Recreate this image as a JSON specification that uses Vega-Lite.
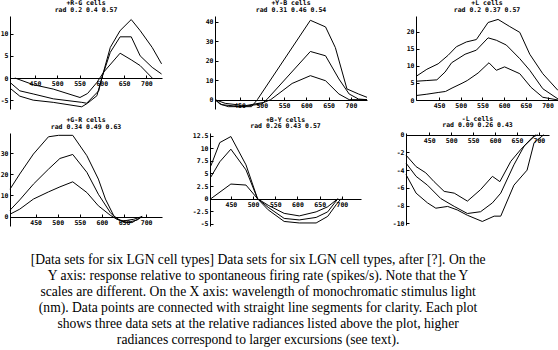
{
  "$schema": "https://vega.github.io/schema/vega-lite/v6.json",
  "background": "white",
  "padding": {"left": 0, "right": 0, "top": 0, "bottom": 0},
  "config": {
    "view": {"stroke": null},
    "axis": {
      "labelFont": "DejaVu Sans Mono", "labelFontSize": 6.5, "labelFontWeight": "bold", "labelColor": "black",
      "domainColor": "black", "domainWidth": 1, "tickColor": "black", "tickWidth": 1, "tickSize": -3,
      "labelPadding": 5, "grid": false, "labelOverlap": false, "labelFlush": false
    },
    "title": {"font": "DejaVu Sans Mono", "fontSize": 6.5, "fontWeight": "bold", "lineHeight": 6.5, "offset": 3, "color": "black", "anchor": "middle"},
    "line": {"color": "black", "strokeWidth": 1, "clip": true}
  },
  "title": {
    "text": [
      "[Data sets for six LGN cell types] Data sets for six LGN cell types, after [?]. On the",
      "Y axis: response relative to spontaneous firing rate (spikes/s). Note that the Y",
      "scales are different. On the X axis: wavelength of monochromatic stimulus light",
      "(nm). Data points are connected with straight line segments for clarity. Each plot",
      "shows three data sets at the relative radiances listed above the plot, higher",
      "radiances correspond to larger excursions (see text)."
    ],
    "orient": "bottom", "anchor": "middle", "font": "Liberation Serif", "fontSize": 13.6, "fontWeight": "normal",
    "lineHeight": 15.9, "offset": 26, "color": "black", "dx": -22
  },
  "datasets": {
    "p1": [
      {"s": "c", "nm": 394, "v": -2.3}, {"s": "c", "nm": 416, "v": -4.1}, {"s": "c", "nm": 446, "v": -5.0}, {"s": "c", "nm": 491, "v": -5.5}, {"s": "c", "nm": 555, "v": -6.5}, {"s": "c", "nm": 568, "v": -5.7}, {"s": "c", "nm": 589, "v": -4.0}, {"s": "c", "nm": 600, "v": 0}, {"s": "c", "nm": 619, "v": 6.9}, {"s": "c", "nm": 641, "v": 10.7}, {"s": "c", "nm": 666, "v": 13.2}, {"s": "c", "nm": 686, "v": 10.7}, {"s": "c", "nm": 713, "v": 6.9}, {"s": "c", "nm": 734, "v": 3.2},
      {"s": "b", "nm": 394, "v": -1.0}, {"s": "b", "nm": 416, "v": -2.9}, {"s": "b", "nm": 446, "v": -3.6}, {"s": "b", "nm": 491, "v": -4.7}, {"s": "b", "nm": 555, "v": -5.5}, {"s": "b", "nm": 566, "v": -5.7}, {"s": "b", "nm": 593, "v": -2.9}, {"s": "b", "nm": 600, "v": 0}, {"s": "b", "nm": 619, "v": 5.8}, {"s": "b", "nm": 641, "v": 9.3}, {"s": "b", "nm": 666, "v": 9.3}, {"s": "b", "nm": 686, "v": 5.0}, {"s": "b", "nm": 713, "v": 2.4}, {"s": "b", "nm": 734, "v": 0.9},
      {"s": "a", "nm": 405, "v": 0}, {"s": "a", "nm": 446, "v": -1.5}, {"s": "a", "nm": 491, "v": -2.5}, {"s": "a", "nm": 551, "v": -4.4}, {"s": "a", "nm": 568, "v": -3.5}, {"s": "a", "nm": 589, "v": -1.0}, {"s": "a", "nm": 604, "v": 1.3}, {"s": "a", "nm": 641, "v": 5.6}, {"s": "a", "nm": 666, "v": 4.1}, {"s": "a", "nm": 686, "v": 2.8}, {"s": "a", "nm": 713, "v": 0}
    ],
    "p2": [
      {"s": "c", "nm": 395, "v": 0}, {"s": "c", "nm": 406, "v": -2.2}, {"s": "c", "nm": 425, "v": -3.6}, {"s": "c", "nm": 477, "v": -3.6}, {"s": "c", "nm": 490, "v": 0}, {"s": "c", "nm": 609, "v": 40.7}, {"s": "c", "nm": 643, "v": 37.3}, {"s": "c", "nm": 665, "v": 26.7}, {"s": "c", "nm": 691, "v": 5.5}, {"s": "c", "nm": 717, "v": 2.9}, {"s": "c", "nm": 736, "v": 1.2},
      {"s": "b", "nm": 395, "v": 0}, {"s": "b", "nm": 410, "v": -2.6}, {"s": "b", "nm": 455, "v": -3.6}, {"s": "b", "nm": 500, "v": -2.2}, {"s": "b", "nm": 511, "v": 0}, {"s": "b", "nm": 609, "v": 24.7}, {"s": "b", "nm": 643, "v": 22.5}, {"s": "b", "nm": 673, "v": 10.6}, {"s": "b", "nm": 696, "v": 2.9}, {"s": "b", "nm": 717, "v": 0.3}, {"s": "b", "nm": 736, "v": 0},
      {"s": "a", "nm": 395, "v": 0}, {"s": "a", "nm": 418, "v": -1.9}, {"s": "a", "nm": 463, "v": -3.1}, {"s": "a", "nm": 505, "v": -1.4}, {"s": "a", "nm": 520, "v": 0}, {"s": "a", "nm": 568, "v": 8.3}, {"s": "a", "nm": 609, "v": 12.3}, {"s": "a", "nm": 643, "v": 9.7}, {"s": "a", "nm": 673, "v": 2.9}, {"s": "a", "nm": 696, "v": 0}, {"s": "a", "nm": 736, "v": 0}
    ],
    "p3": [
      {"s": "c", "nm": 397, "v": 6.9}, {"s": "c", "nm": 422, "v": 9.0}, {"s": "c", "nm": 448, "v": 10.6}, {"s": "c", "nm": 471, "v": 13.1}, {"s": "c", "nm": 490, "v": 15.6}, {"s": "c", "nm": 513, "v": 17.0}, {"s": "c", "nm": 536, "v": 17.7}, {"s": "c", "nm": 563, "v": 22.7}, {"s": "c", "nm": 586, "v": 23.6}, {"s": "c", "nm": 613, "v": 21.5}, {"s": "c", "nm": 636, "v": 19.8}, {"s": "c", "nm": 659, "v": 13.4}, {"s": "c", "nm": 689, "v": 7.7}, {"s": "c", "nm": 724, "v": 2.8},
      {"s": "b", "nm": 397, "v": 5.5}, {"s": "b", "nm": 422, "v": 5.7}, {"s": "b", "nm": 445, "v": 5.9}, {"s": "b", "nm": 464, "v": 8.2}, {"s": "b", "nm": 479, "v": 10.9}, {"s": "b", "nm": 510, "v": 13.4}, {"s": "b", "nm": 536, "v": 14.6}, {"s": "b", "nm": 563, "v": 18.2}, {"s": "b", "nm": 582, "v": 17.5}, {"s": "b", "nm": 605, "v": 16.1}, {"s": "b", "nm": 636, "v": 12.1}, {"s": "b", "nm": 659, "v": 8.7}, {"s": "b", "nm": 689, "v": 3.3}, {"s": "b", "nm": 724, "v": 0.3},
      {"s": "a", "nm": 397, "v": 1.3}, {"s": "a", "nm": 422, "v": 1.7}, {"s": "a", "nm": 448, "v": 2.2}, {"s": "a", "nm": 465, "v": 2.5}, {"s": "a", "nm": 480, "v": 3.5}, {"s": "a", "nm": 503, "v": 4.9}, {"s": "a", "nm": 515, "v": 5.7}, {"s": "a", "nm": 540, "v": 7.9}, {"s": "a", "nm": 565, "v": 10.9}, {"s": "a", "nm": 582, "v": 8.7}, {"s": "a", "nm": 601, "v": 9.7}, {"s": "a", "nm": 636, "v": 7.7}, {"s": "a", "nm": 662, "v": 3.7}, {"s": "a", "nm": 689, "v": 0.8}, {"s": "a", "nm": 724, "v": 0}
    ],
    "p4": [
      {"s": "c", "nm": 392, "v": 13}, {"s": "c", "nm": 414, "v": 20.2}, {"s": "c", "nm": 445, "v": 29.7}, {"s": "c", "nm": 479, "v": 37.9}, {"s": "c", "nm": 502, "v": 38.6}, {"s": "c", "nm": 534, "v": 38.6}, {"s": "c", "nm": 566, "v": 28.9}, {"s": "c", "nm": 592, "v": 17.8}, {"s": "c", "nm": 608, "v": 8.3}, {"s": "c", "nm": 627, "v": 0.3}, {"s": "c", "nm": 645, "v": -2.4}, {"s": "c", "nm": 668, "v": -2.9}, {"s": "c", "nm": 691, "v": 0},
      {"s": "b", "nm": 392, "v": 3}, {"s": "b", "nm": 414, "v": 7.9}, {"s": "b", "nm": 445, "v": 15.4}, {"s": "b", "nm": 479, "v": 22.5}, {"s": "b", "nm": 505, "v": 27.6}, {"s": "b", "nm": 534, "v": 29.5}, {"s": "b", "nm": 566, "v": 21}, {"s": "b", "nm": 592, "v": 10.6}, {"s": "b", "nm": 619, "v": 1.9}, {"s": "b", "nm": 634, "v": -1.3}, {"s": "b", "nm": 657, "v": -2.9}, {"s": "b", "nm": 680, "v": -1.6}, {"s": "b", "nm": 691, "v": 0},
      {"s": "a", "nm": 392, "v": 1.1}, {"s": "a", "nm": 414, "v": 3.5}, {"s": "a", "nm": 445, "v": 8.3}, {"s": "a", "nm": 479, "v": 11.7}, {"s": "a", "nm": 505, "v": 14.1}, {"s": "a", "nm": 534, "v": 16.5}, {"s": "a", "nm": 566, "v": 11.4}, {"s": "a", "nm": 592, "v": 5.1}, {"s": "a", "nm": 619, "v": 0.6}, {"s": "a", "nm": 634, "v": -1.3}, {"s": "a", "nm": 649, "v": -2.1}, {"s": "a", "nm": 672, "v": -1.3}, {"s": "a", "nm": 691, "v": 0}
    ],
    "p5": [
      {"s": "c", "nm": 405, "v": 6.5}, {"s": "c", "nm": 425, "v": 11.1}, {"s": "c", "nm": 450, "v": 12.3}, {"s": "c", "nm": 484, "v": 6.7}, {"s": "c", "nm": 510, "v": 0}, {"s": "c", "nm": 534, "v": -2.2}, {"s": "c", "nm": 570, "v": -4.5}, {"s": "c", "nm": 604, "v": -4.8}, {"s": "c", "nm": 642, "v": -4.8}, {"s": "c", "nm": 668, "v": -3.5}, {"s": "c", "nm": 687, "v": -1.2}, {"s": "c", "nm": 698, "v": 0},
      {"s": "b", "nm": 405, "v": 4.3}, {"s": "b", "nm": 425, "v": 7.3}, {"s": "b", "nm": 450, "v": 9.8}, {"s": "b", "nm": 484, "v": 5.7}, {"s": "b", "nm": 510, "v": 0}, {"s": "b", "nm": 534, "v": -1.7}, {"s": "b", "nm": 570, "v": -3.9}, {"s": "b", "nm": 604, "v": -4.2}, {"s": "b", "nm": 642, "v": -3.7}, {"s": "b", "nm": 668, "v": -2.6}, {"s": "b", "nm": 691, "v": 0},
      {"s": "a", "nm": 405, "v": 0}, {"s": "a", "nm": 450, "v": 2.9}, {"s": "a", "nm": 484, "v": 2.7}, {"s": "a", "nm": 510, "v": 0}, {"s": "a", "nm": 534, "v": -1.3}, {"s": "a", "nm": 570, "v": -2.9}, {"s": "a", "nm": 604, "v": -3.4}, {"s": "a", "nm": 642, "v": -2.6}, {"s": "a", "nm": 668, "v": -1.6}, {"s": "a", "nm": 691, "v": 0}
    ],
    "p6": [
      {"s": "a", "nm": 397, "v": -2.3}, {"s": "a", "nm": 420, "v": -3.6}, {"s": "a", "nm": 442, "v": -4.3}, {"s": "a", "nm": 461, "v": -5.3}, {"s": "a", "nm": 484, "v": -6.4}, {"s": "a", "nm": 507, "v": -6.6}, {"s": "a", "nm": 537, "v": -7.5}, {"s": "a", "nm": 567, "v": -6.2}, {"s": "a", "nm": 594, "v": -4.7}, {"s": "a", "nm": 611, "v": -5.3}, {"s": "a", "nm": 636, "v": -3.0}, {"s": "a", "nm": 658, "v": -1.7}, {"s": "a", "nm": 685, "v": -0.3}, {"s": "a", "nm": 692, "v": 0},
      {"s": "b", "nm": 397, "v": -3.2}, {"s": "b", "nm": 420, "v": -4.7}, {"s": "b", "nm": 446, "v": -5.7}, {"s": "b", "nm": 476, "v": -7.2}, {"s": "b", "nm": 507, "v": -8.1}, {"s": "b", "nm": 537, "v": -8.9}, {"s": "b", "nm": 567, "v": -8.7}, {"s": "b", "nm": 594, "v": -7.7}, {"s": "b", "nm": 613, "v": -6.6}, {"s": "b", "nm": 643, "v": -3.4}, {"s": "b", "nm": 666, "v": -1.3}, {"s": "b", "nm": 689, "v": -0.2}, {"s": "b", "nm": 697, "v": 0},
      {"s": "c", "nm": 397, "v": -4.5}, {"s": "c", "nm": 420, "v": -6.6}, {"s": "c", "nm": 446, "v": -7.7}, {"s": "c", "nm": 465, "v": -8.3}, {"s": "c", "nm": 492, "v": -8.1}, {"s": "c", "nm": 514, "v": -8.5}, {"s": "c", "nm": 537, "v": -9.1}, {"s": "c", "nm": 571, "v": -9.8}, {"s": "c", "nm": 598, "v": -9.2}, {"s": "c", "nm": 613, "v": -9.2}, {"s": "c", "nm": 643, "v": -5.7}, {"s": "c", "nm": 673, "v": -4.0}, {"s": "c", "nm": 689, "v": -0.9}, {"s": "c", "nm": 711, "v": 0}
    ]
  },
  "vconcat": [
    {
      "spacing": 41,
      "hconcat": [
        {
          "title": {"text": ["+R-G cells", "rad 0.2 0.4 0.57"]},
          "width": 152, "height": 93,
          "data": {"name": "p1"},
          "mark": "line",
          "encoding": {
            "x": {"field": "nm", "type": "quantitative", "title": null, "scale": {"domain": [394, 735], "nice": false, "zero": false}, "axis": {"values": [450, 500, 550, 600, 650, 700], "offset": -31}},
            "y": {"field": "v", "type": "quantitative", "title": null, "scale": {"domain": [-7, 14], "nice": false}, "axis": {"values": [-5, 0, 5, 10], "labelExpr": "'' + datum.value"}},
            "detail": {"field": "s"}
          }
        },
        {
          "spacing": 37,
          "hconcat": [
            {
              "title": {"text": ["+Y-B cells", "rad 0.31 0.46 0.54"]},
              "width": 152, "height": 93,
              "data": {"name": "p2"},
              "mark": "line",
              "encoding": {
                "x": {"field": "nm", "type": "quantitative", "title": null, "scale": {"domain": [395, 736], "nice": false, "zero": false}, "axis": {"values": [450, 500, 550, 600, 650, 700], "offset": -9}},
                "y": {"field": "v", "type": "quantitative", "title": null, "scale": {"domain": [-4.8, 42.9], "nice": false}, "axis": {"values": [0, 10, 20, 30, 40], "labelExpr": "'' + datum.value"}},
                "detail": {"field": "s"}
              }
            },
            {
              "title": {"text": ["+L cells", "rad 0.2 0.37 0.57"]},
              "width": 142, "height": 84,
              "data": {"name": "p3"},
              "mark": "line",
              "encoding": {
                "x": {"field": "nm", "type": "quantitative", "title": null, "scale": {"domain": [397, 724], "nice": false, "zero": false}, "axis": {"values": [450, 500, 550, 600, 650, 700]}},
                "y": {"field": "v", "type": "quantitative", "title": null, "scale": {"domain": [0, 24.6], "nice": false}, "axis": {"values": [0, 5, 10, 15, 20], "labelExpr": "'' + datum.value"}},
                "detail": {"field": "s"}
              }
            }
          ]
        }
      ]
    },
    {
      "spacing": 30,
      "hconcat": [
        {
          "title": {"text": ["+G-R cells", "rad 0.34 0.49 0.63"]},
          "width": 152, "height": 93,
          "data": {"name": "p4"},
          "mark": "line",
          "encoding": {
            "x": {"field": "nm", "type": "quantitative", "title": null, "scale": {"domain": [392, 736], "nice": false, "zero": false}, "axis": {"values": [450, 500, 550, 600, 650, 700], "offset": -9}},
            "y": {"field": "v", "type": "quantitative", "title": null, "scale": {"domain": [-4.5, 39.7], "nice": false}, "axis": {"values": [0, 10, 20, 30], "labelExpr": "'' + datum.value"}},
            "detail": {"field": "s"}
          }
        },
        {
          "spacing": 31,
          "hconcat": [
            {
              "title": {"text": ["+B-Y cells", "rad 0.26 0.43 0.57"]},
              "width": 151, "height": 93,
              "data": {"name": "p5"},
              "mark": "line",
              "encoding": {
                "x": {"field": "nm", "type": "quantitative", "title": null, "scale": {"domain": [403, 743], "nice": false, "zero": false}, "axis": {"values": [450, 500, 550, 600, 650, 700], "offset": -27}},
                "y": {"field": "v", "type": "quantitative", "title": null, "scale": {"domain": [-5.4, 13], "nice": false}, "axis": {"values": [-5, -2.5, 0, 2.5, 5, 7.5, 10, 12.5], "labelExpr": "'' + datum.value"}},
                "detail": {"field": "s"}
              }
            },
            {
              "title": {"text": ["-L cells", "rad 0.09 0.26 0.43"]},
              "width": 143, "height": 92,
              "data": {"name": "p6"},
              "mark": "line",
              "encoding": {
                "x": {"field": "nm", "type": "quantitative", "title": null, "scale": {"domain": [397, 723], "nice": false, "zero": false}, "axis": {"values": [450, 500, 550, 600, 650, 700], "offset": -90}},
                "y": {"field": "v", "type": "quantitative", "title": null, "scale": {"domain": [-10.2, 0.2], "nice": false}, "axis": {"values": [-10, -8, -6, -4, -2, 0], "labelExpr": "'' + datum.value"}},
                "detail": {"field": "s"}
              }
            }
          ]
        }
      ]
    }
  ],
  "spacing": 6
}
